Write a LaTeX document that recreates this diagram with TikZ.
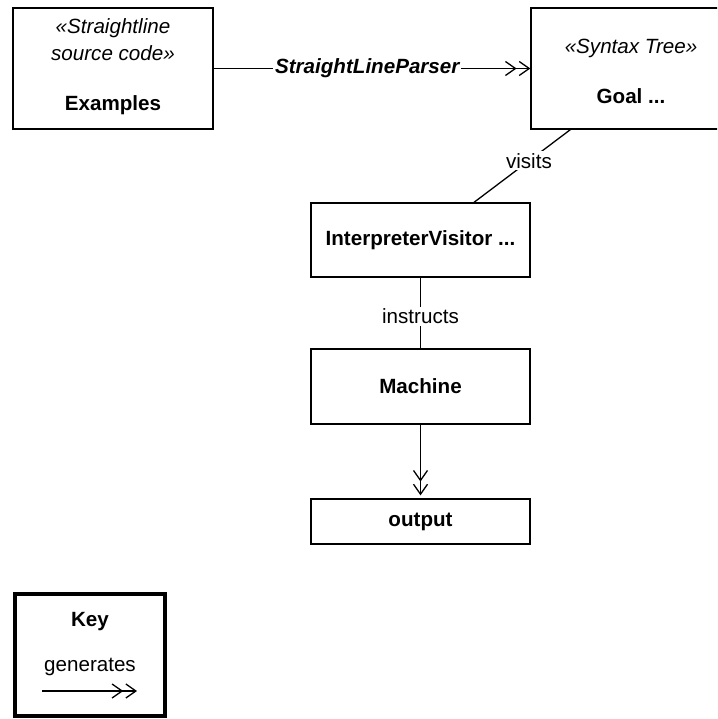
\documentclass[tikz,border=0pt]{standalone}
\usepackage{fontspec}
\setmainfont{Liberation Sans}
\usetikzlibrary{arrows.meta}
\begin{document}
\begin{tikzpicture}[x=1pt,y=-1pt,
  box/.style={draw, line width=1.3pt, rectangle, inner sep=0pt},
  keybox/.style={draw, line width=4pt, rectangle, inner sep=0pt},
  txt/.style={font=\fontsize{20.6}{24}\selectfont, inner sep=0pt},
  lbl/.style={font=\fontsize{20.6}{24}\selectfont, fill=white, inner sep=2pt},
  conn/.style={line width=1.3pt},
  dbl/.style={line width=1.3pt, -{Straight Barb[length=10pt,width=14pt,line width=1.3pt,sep=2pt] Straight Barb[length=10pt,width=14pt,line width=1.3pt]}}]
\useasboundingbox (0,0) rectangle (717,719);
\clip (0,0) rectangle (717,719);
% boxes
\node[box, minimum width=200pt, minimum height=121pt] (ex) at (113,68.5) {};
\node[box, minimum width=200pt, minimum height=121pt] (goal) at (631,68.5) {};
\node[box, minimum width=219pt, minimum height=74pt] (iv) at (420.5,240) {};
\node[box, minimum width=219pt, minimum height=75pt] (mach) at (420.5,386.5) {};
\node[box, minimum width=219pt, minimum height=45pt] (out) at (420.5,521.5) {};
\node[keybox, minimum width=150pt, minimum height=122pt] (key) at (90,655) {};
% texts
\node[txt, font=\fontsize{20.6}{24}\selectfont\itshape] (ex1) at (113,28) {«Straightline};
\node[txt, font=\fontsize{20.6}{24}\selectfont\itshape] (ex2) at (113,53) {source code»};
\node[txt, font=\fontsize{20.6}{24}\selectfont\bfseries] (ex3) at (113,105) {Examples};
\node[txt, font=\fontsize{20.6}{24}\selectfont\itshape] (g1) at (631,48) {«Syntax Tree»};
\node[txt, font=\fontsize{20.6}{24}\selectfont\bfseries] (g2) at (631,96) {Goal ...};
\node[txt, font=\fontsize{20.6}{24}\selectfont\bfseries] (ivt) at (iv) {InterpreterVisitor ...};
\node[txt, font=\fontsize{20.6}{24}\selectfont\bfseries] (mt) at (mach) {Machine};
\node[txt, font=\fontsize{20.6}{24}\selectfont\bfseries] (ot) at (out) {output};
\node[txt, font=\fontsize{20.6}{24}\selectfont\bfseries] (kt) at (90,622) {Key};
\node[txt] (kg) at (90,667) {generates};
% connectors
\draw[dbl] (ex.east) -- node[lbl, pos=0.485, font=\fontsize{20.6}{24}\selectfont\bfseries\itshape] (slp) {StraightLineParser} (goal.west);
\coordinate (v1) at ([xshift=40pt]goal.south west);
\coordinate (v2) at ([xshift=53.5pt]iv.north);
\draw[conn] (v1) -- node[lbl, pos=0.43] (vis) {visits} (v2);
\draw[conn] (iv.south) -- node[lbl, pos=0.55] (ins) {instructs} (mach.north);
\coordinate (oa) at ([yshift=3pt]out.north);
\draw[dbl] (mach.south) -- (oa);
\coordinate (k1) at (42,691);
\coordinate (k2) at (137,691);
\draw[dbl] (k1) -- (k2);
\end{tikzpicture}
\end{document}
